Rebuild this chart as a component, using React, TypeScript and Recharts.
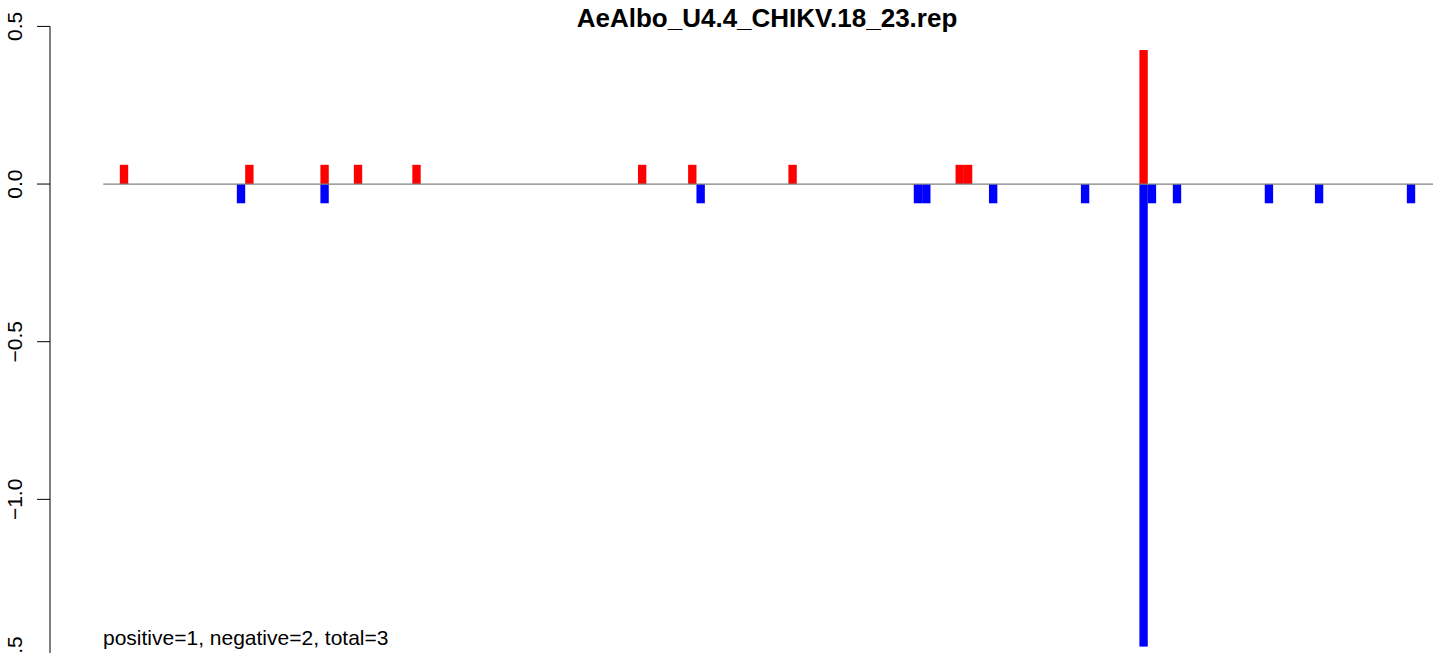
import React from "react";
import { BarChart, Bar, XAxis, YAxis, ReferenceLine } from "recharts";

// Bar positions (index along the sequence) and values
const redIdx = [2, 17, 26, 30, 37, 64, 70, 82, 102, 103, 124];
const redVal = [0.061, 0.061, 0.061, 0.061, 0.061, 0.061, 0.061, 0.061, 0.061, 0.061, 0.425];
const blueIdx = [16, 26, 71, 97, 98, 106, 117, 124, 125, 128, 139, 145, 156];
const blueVal = [-0.061, -0.061, -0.061, -0.061, -0.061, -0.061, -0.061, -1.467, -0.061, -0.061, -0.061, -0.061, -0.061];
const yTicks = [-1.5, -1.0, -0.5, 0.0, 0.5];
const xCount = 159;
const title = "AeAlbo_U4.4_CHIKV.18_23.rep";
const note = "positive=1, negative=2, total=3";

const rows = Array.from({ length: xCount }, (_, i) => {
  const r = redIdx.indexOf(i);
  const b = blueIdx.indexOf(i);
  return { x: i, red: r >= 0 ? redVal[r] : null, blue: b >= 0 ? blueVal[b] : null };
});

const fmt = (v: number) => (v === 0 ? "0.0" : v.toFixed(1).replace("-", "\u2212"));

const YTick = (props: any) => {
  const { x, y, payload } = props;
  const lx = x - 13;
  return (
    <text
      x={lx}
      y={y}
      transform={`rotate(-90, ${lx}, ${y})`}
      textAnchor="middle"
      fontSize={21}
      fontFamily="'Liberation Sans', Arial, sans-serif"
      fill="#000"
    >
      {fmt(payload.value)}
    </text>
  );
};

// Fill the full band so adjacent bars touch (Recharts truncates bar width to whole pixels)
const FullBar = (props: any) => {
  const { x, y, width, height, fill } = props;
  if (width == null || height == null || !isFinite(height) || height === 0) return null;
  const extra = 0.36;
  const top = height < 0 ? y + height : y;
  return <rect x={x - extra / 2} y={top} width={width + extra} height={Math.abs(height)} fill={fill} />;
};

export default function App() {
  return (
    <div style={{ position: "absolute", left: 0, top: 0, width: 1433, height: 653, overflow: "hidden", background: "#fff" }}>
      <BarChart
        width={1433}
        height={657}
        data={rows}
        margin={{ top: 26.4, right: 0, bottom: 0, left: 0 }}
        stackOffset="sign"
        barCategoryGap={0}
        barGap={0}
      >
        <XAxis dataKey="x" type="number" domain={[-6.878, 158.61]} allowDataOverflow hide />
        <YAxis
          width={50}
          domain={[-1.5, 0.5]}
          ticks={yTicks}
          interval={0}
          allowDataOverflow
          tickSize={13}
          tickMargin={2}
          tick={<YTick />}
          axisLine={{ stroke: "#000", strokeWidth: 1 }}
          tickLine={{ stroke: "#000", strokeWidth: 1 }}
        />
        <Bar dataKey="red" stackId="a" fill="#FF0000" shape={<FullBar />} isAnimationActive={false} />
        <Bar dataKey="blue" stackId="a" fill="#0000FF" shape={<FullBar />} isAnimationActive={false} />
        <ReferenceLine
          segment={[{ x: -0.5, y: 0 }, { x: 158.61, y: 0 }]}
          stroke="#808080"
          strokeWidth={1.3}
          ifOverflow="visible"
        />
      </BarChart>
      <div
        style={{
          position: "absolute",
          left: 0,
          width: 1534,
          top: 5,
          textAlign: "center",
          fontFamily: "'Liberation Sans', Arial, sans-serif",
          fontWeight: "bold",
          fontSize: 26,
          lineHeight: "26px",
          whiteSpace: "nowrap",
        }}
      >
        {title}
      </div>
      <div
        style={{
          position: "absolute",
          left: 103,
          top: 627,
          fontFamily: "'Liberation Sans', Arial, sans-serif",
          fontSize: 21,
          lineHeight: "21px",
          whiteSpace: "nowrap",
        }}
      >
        {note}
      </div>
    </div>
  );
}
